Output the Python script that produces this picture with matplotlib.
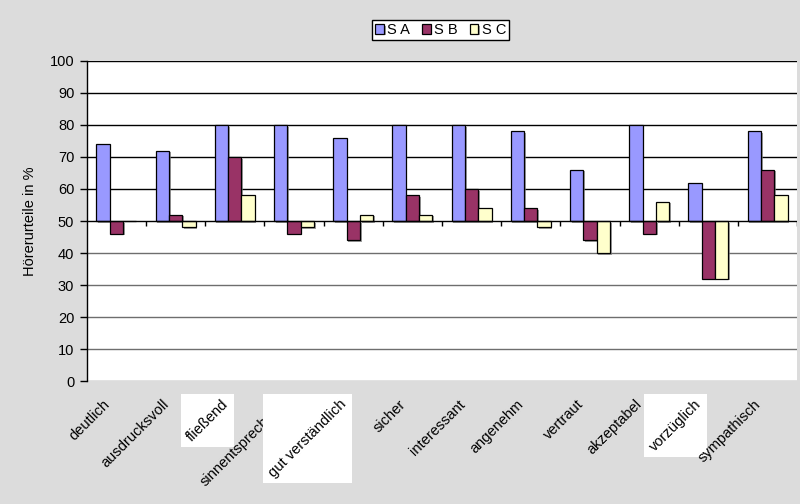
import numpy as np
import matplotlib
matplotlib.use("Agg")
import matplotlib.pyplot as plt
import matplotlib.transforms as mtransforms
import matplotlib.patheffects as pe
from matplotlib.patches import Rectangle

plt.rcParams['font.family'] = ['Liberation Sans', 'DejaVu Sans']

# Hörerurteile je Eigenschaft
labels = ['deutlich', 'ausdrucksvoll', 'fließend', 'sinnentsprechend',
          'gut verständlich', 'sicher', 'interessant', 'angenehm',
          'vertraut', 'akzeptabel', 'vorzüglich', 'sympathisch']
s_a = [74, 72, 80, 80, 76, 80, 80, 78, 66, 80, 62, 78]
s_b = [46, 52, 70, 46, 44, 58, 60, 54, 44, 46, 32, 66]
s_c = [50, 48, 58, 48, 52, 52, 54, 48, 40, 56, 32, 58]
series = ['S A', 'S B', 'S C']
colors = ['#9999FF', '#993366', '#FFFFCC']
boxed = ['fließend', 'gut verständlich', 'vorzüglich']
base = 50
fs = 10.5

fig = plt.figure(figsize=(8, 5.04), dpi=100, facecolor='#DCDCDC')
ax = fig.add_axes([0.1085, 0.244, 0.888, 0.635])
ax.set_facecolor('white')

x = np.arange(len(labels))
w = 0.225
shadow = [pe.SimplePatchShadow(offset=(1.2, -1.2), shadow_rgbFace='#777777', alpha=0.7), pe.Normal()]
for k, (vals, name, col) in enumerate(zip([s_a, s_b, s_c], series, colors)):
    vals = np.array(vals)
    ax.bar(x + (k - 1) * w, vals - base, bottom=base, width=w, color=col,
           edgecolor='black', linewidth=0.9, label=name, zorder=3,
           path_effects=shadow)

ax.set_xlim(-0.5, len(labels) - 0.5)
ax.set_ylim(0, 100)
ax.set_yticks(np.arange(0, 101, 10))
for yv in np.arange(0, 101, 10):
    if yv == base:
        continue
    ax.axhline(yv, color='black' if yv > base else '#6e6e6e', lw=1, zorder=1)
# category axis crosses at 50
ax.axhline(base, color='black', lw=1, zorder=4)
ax.vlines(np.arange(0.5, len(labels)), base - 1.6, base, color='black', lw=1, zorder=4)

for s in ['top', 'right', 'bottom']:
    ax.spines[s].set_visible(False)
ax.spines['left'].set_linewidth(1)
ax.set_xticks([])
ax.tick_params(axis='y', length=5, width=1, pad=4, labelsize=fs)
ax.set_ylabel('Hörerurteile in %', fontsize=fs, labelpad=9)

# rotated category labels below the plot area
trans = mtransforms.blended_transform_factory(ax.transData, ax.transAxes)
trans = trans + mtransforms.ScaledTranslation(0, -16 / 100, fig.dpi_scale_trans)
texts = []
for i, lab in enumerate(labels):
    t = ax.text(i - 0.07, 0, lab, transform=trans, rotation=45, ha='right', va='top',
                fontsize=fs, clip_on=False, zorder=10 + 2 * i)
    texts.append(t)

fig.canvas.draw()
inv = fig.transFigure.inverted()
for i, t in enumerate(texts):
    if t.get_text() in boxed:
        bb = t.get_window_extent()
        bb = mtransforms.Bbox.from_extents(bb.x0 - 3, bb.y0 - 3, bb.x1 + 3, bb.y1 + 3)
        bb = bb.transformed(inv)
        ax.add_patch(Rectangle((bb.x0, bb.y0), bb.width, bb.height, transform=fig.transFigure,
                               facecolor='white', edgecolor='none', clip_on=False,
                               zorder=10 + 2 * i - 1))

leg = fig.legend(loc='center', bbox_to_anchor=(0.551, 0.94), ncol=3, fontsize=fs,
                 frameon=True, fancybox=False, edgecolor='black', framealpha=1,
                 handlelength=0.6, handleheight=0.6, handletextpad=0.25,
                 columnspacing=0.8, borderpad=0.2, borderaxespad=0)
leg.get_frame().set_linewidth(1)

fig.savefig('out.png', dpi=100, facecolor=fig.get_facecolor())
